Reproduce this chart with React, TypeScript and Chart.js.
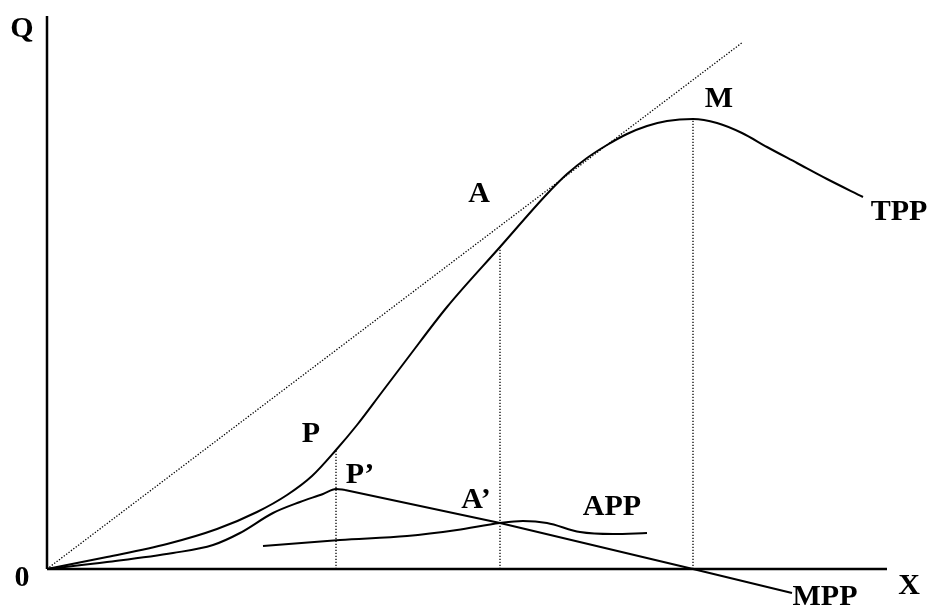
import React, { useEffect, useRef } from "react";
import { Chart, registerables } from "chart.js";

Chart.register(...registerables);

// Data units: horizontal input X (0..840), vertical output Q (0..553)
const xMax = 840;
const yMax = 553;

const tppX = [0, 60, 120, 170, 210, 240, 265, 289, 310, 335, 360, 400, 453, 500, 520, 540, 560, 580, 600, 620, 646, 670, 695, 720, 750, 780, 816];
const tppY = [0, 12, 25, 40, 57, 74, 93, 119, 144, 177, 210, 262, 322, 375, 395, 411, 424, 435, 443, 448, 450, 446, 436, 422, 406, 390, 372];

const mppX = [0, 60, 126, 166, 193, 226, 253, 276, 289, 298, 453, 646, 745];
const mppY = [0, 7, 16, 24, 36, 56, 67, 75, 80, 79, 46, 0, -24];

const appX = [216, 293, 360, 410, 453, 476, 500, 533, 566, 600];
const appY = [23, 29, 33, 39, 46, 48, 46, 37, 35, 36];

const rayX = [0, 696];
const rayY = [0, 527];

// vertical dotted drops at P, A, M
const dropX = [289, 453, 646];
const dropTop = [119, 322, 450];

const labelText = ["Q", "0", "X", "MPP", "TPP", "M", "A", "P", "P\u2019", "A\u2019", "APP"];
const labelX = [-25, -25, 862, 778, 852, 672, 432, 264, 313, 429, 565];
const labelY = [532, -17, -25, -36, 349, 462, 367, 127, 86, 61, 54];

const pts = (xs: number[], ys: number[]) => xs.map((x, i) => ({ x, y: ys[i] }));

export default function App() {
  const ref = useRef<HTMLCanvasElement | null>(null);

  useEffect(() => {
    if (!ref.current) return;
    const solid = (data: { x: number; y: number }[], mono = false, width = 2) => ({
      data,
      showLine: true,
      borderColor: "#000",
      borderWidth: width,
      pointRadius: 0,
      tension: mono ? 0.4 : 0,
      cubicInterpolationMode: mono ? "monotone" : "default",
      fill: false,
      clip: false as any,
    });
    const dotted = (data: { x: number; y: number }[]) => ({
      data,
      showLine: true,
      borderColor: "#000",
      borderWidth: 1.3,
      borderDash: [1.3, 1.7],
      pointRadius: 0,
      tension: 0,
      fill: false,
      clip: false as any,
    });

    const datasets: any[] = [
      solid(pts([0, 0], [0, yMax]), false, 2.5),
      solid(pts([0, xMax], [0, 0]), false, 2.5),
      dotted(pts(rayX, rayY)),
      ...dropX.map((x, i) => dotted(pts([x, x], [0, dropTop[i]]))),
      solid(pts(tppX, tppY), true, 2),
      solid(pts(mppX.slice(0, 10), mppY.slice(0, 10)), true, 2),
      solid(pts(mppX.slice(9), mppY.slice(9)), false, 2),
      solid(pts(appX, appY), true, 2),
    ];

    const labelsPlugin = {
      id: "labels",
      afterDatasetsDraw(chart: any) {
        const { ctx, scales } = chart;
        ctx.save();
        ctx.fillStyle = "#000";
        ctx.font = 'bold 30px "Liberation Serif", "Times New Roman", serif';
        ctx.textAlign = "center";
        ctx.textBaseline = "alphabetic";
        labelText.forEach((t, i) => {
          ctx.fillText(t, scales.x.getPixelForValue(labelX[i]), scales.y.getPixelForValue(labelY[i]));
        });
        ctx.restore();
      },
    };

    const chart = new Chart(ref.current, {
      type: "scatter",
      data: { datasets },
      options: {
        animation: false,
        responsive: false,
        events: [],
        layout: { padding: { left: 47, top: 16, right: 44, bottom: 38 } },
        scales: {
          x: { type: "linear", min: 0, max: xMax, display: false },
          y: { type: "linear", min: 0, max: yMax, display: false },
        },
        plugins: { legend: { display: false }, tooltip: { enabled: false } },
      },
      plugins: [labelsPlugin],
    });
    return () => chart.destroy();
  }, []);

  return (
    <div style={{ position: "fixed", left: 0, top: 0, width: 931, height: 607, background: "#fff" }}>
      <canvas ref={ref} width={931} height={607} style={{ display: "block" }} />
    </div>
  );
}
